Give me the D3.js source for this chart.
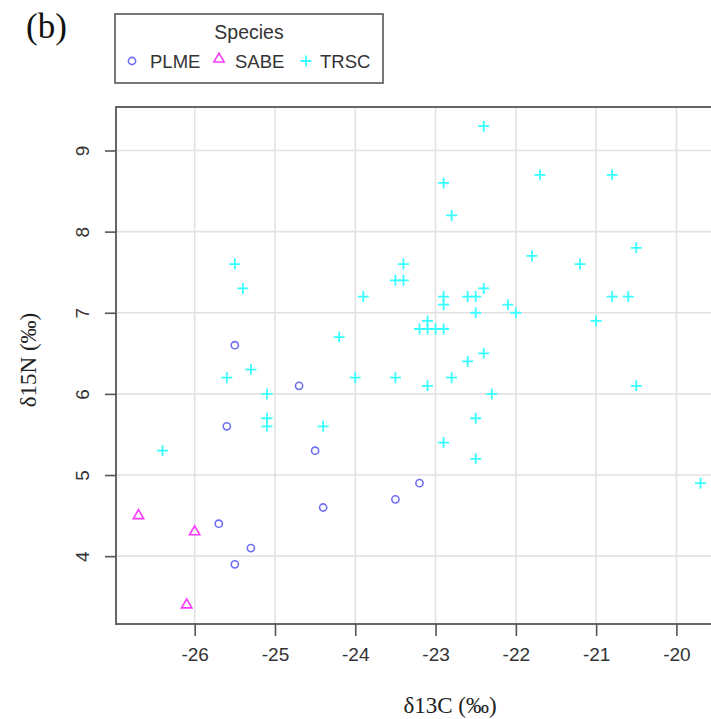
<!DOCTYPE html>
<html>
<head>
<meta charset="utf-8">
<script src="https://cdn.jsdelivr.net/npm/d3@7"></script>
<style>
  body { margin: 0; background: #fff; }
  svg { display: block; }
</style>
</head>
<body>
<div id="chart"></div>
<script>
// data: d13C (x), d15N (y)
var plmeX = [-25.5, -24.7, -25.6, -24.5, -23.5, -24.4, -25.7, -25.3, -25.5, -23.2];
var plmeY = [6.6, 6.1, 5.6, 5.3, 4.7, 4.6, 4.4, 4.1, 3.9, 4.9];

var sabeX = [-26.7, -26.0, -26.1];
var sabeY = [4.5, 4.3, 3.4];

var trscX = [-25.5, -25.4, -23.9, -23.4, -23.5, -23.4, -24.2, -25.3,
             -22.4, -22.9, -21.7, -20.8, -22.8, -20.5, -21.8, -21.2,
             -22.9, -22.9, -22.6, -22.5, -22.4, -22.5, -22.1, -22.0,
             -20.8, -20.6, -21.0, -23.2, -23.1, -23.0, -22.9, -23.1,
             -22.6, -22.4, -25.6, -25.1, -25.1, -25.1, -24.4, -26.4,
             -24.0, -23.5, -23.1, -22.8, -22.3, -22.5, -22.9, -22.5,
             -20.5, -19.7];
var trscY = [7.6, 7.3, 7.2, 7.6, 7.4, 7.4, 6.7, 6.3,
             9.3, 8.6, 8.7, 8.7, 8.2, 7.8, 7.7, 7.6,
             7.2, 7.1, 7.2, 7.2, 7.3, 7.0, 7.1, 7.0,
             7.2, 7.2, 6.9, 6.8, 6.8, 6.8, 6.8, 6.9,
             6.4, 6.5, 6.2, 6.0, 5.7, 5.6, 5.6, 5.3,
             6.2, 6.2, 6.1, 6.2, 6.0, 5.7, 5.4, 5.2,
             6.1, 4.9];

var species = ["PLME", "SABE", "TRSC"];
var colors = ["#6f6ff2", "#ff38ff", "#38ffff"];
var xTicks = [-26, -25, -24, -23, -22, -21, -20];
var yTicks = [4, 5, 6, 7, 8, 9];

var width = 711, height = 719;
// plot box (right edge falls outside the picture, as in the original)
var pLeft = 116, pRight = 723, pTop = 107, pBottom = 624;

var X = d3.scaleLinear().domain([-26.98, -19.42]).range([pLeft, pRight]);
var Y = d3.scaleLinear().domain([3.164, 9.536]).range([pBottom, pTop]);

var svg = d3.select("#chart").append("svg")
    .attr("width", width)
    .attr("height", height);

// grid
svg.append("g").selectAll("line").data(xTicks).enter().append("line")
    .attr("x1", function(d) { return X(d); })
    .attr("x2", function(d) { return X(d); })
    .attr("y1", pTop).attr("y2", pBottom)
    .style("stroke", "#e2e2e2").style("stroke-width", 1.6);
svg.append("g").selectAll("line").data(yTicks).enter().append("line")
    .attr("y1", function(d) { return Y(d); })
    .attr("y2", function(d) { return Y(d); })
    .attr("x1", pLeft).attr("x2", pRight)
    .style("stroke", "#e2e2e2").style("stroke-width", 1.6);

// box
svg.append("rect")
    .attr("x", pLeft).attr("y", pTop)
    .attr("width", pRight - pLeft).attr("height", pBottom - pTop)
    .style("fill", "none").style("stroke", "#666").style("stroke-width", 2);

// axes
var xAxis = d3.axisBottom(X).tickValues(xTicks).tickSize(12).tickPadding(12)
    .tickFormat(function(d) { return "-" + Math.abs(d); });
var gx = svg.append("g").attr("transform", "translate(0," + pBottom + ")").call(xAxis);
gx.select(".domain").remove();
gx.selectAll("line").style("stroke", "#555").style("stroke-width", 1.6);
gx.selectAll("text").style("font-family", "Liberation Sans, Arial, sans-serif")
    .style("font-size", "19px").style("fill", "#333");

var yAxis = d3.axisLeft(Y).tickValues(yTicks).tickSize(11).tickFormat(d3.format("d"));
var gy = svg.append("g").attr("transform", "translate(" + pLeft + ",0)").call(yAxis);
gy.select(".domain").remove();
gy.selectAll("line").style("stroke", "#555").style("stroke-width", 1.6);
gy.selectAll("text")
    .attr("x", null).attr("y", null).attr("dy", null)
    .attr("transform", "translate(-34,0) rotate(-90)")
    .style("text-anchor", "middle").style("dominant-baseline", "central")
    .style("font-family", "Liberation Sans, Arial, sans-serif")
    .style("font-size", "19px").style("fill", "#333");

// axis titles
svg.append("text")
    .attr("x", 450).attr("y", 713)
    .style("text-anchor", "middle")
    .style("font-family", "Liberation Serif, Times New Roman, serif")
    .style("font-size", "23px").style("fill", "#222")
    .text("δ13C (‰)");
svg.append("text")
    .attr("transform", "translate(36,360) rotate(-90)")
    .style("text-anchor", "middle")
    .style("font-family", "Liberation Serif, Times New Roman, serif")
    .style("font-size", "23px").style("fill", "#222")
    .text("δ15N (‰)");

// panel label
svg.append("text")
    .attr("x", 26).attr("y", 38)
    .style("font-family", "Liberation Serif, Times New Roman, serif")
    .style("font-size", "35px").style("fill", "#111")
    .text("(b)");

// symbols
function plusPath(s) {
    return "M" + (-s) + ",0H" + s + "M0," + (-s) + "V" + s;
}
var tri = d3.symbol().type(d3.symbolTriangle).size(46);

function pairs(xs, ys) {
    return xs.map(function(x, i) { return [x, ys[i]]; });
}

svg.append("g").selectAll("circle").data(pairs(plmeX, plmeY)).enter().append("circle")
    .attr("cx", function(d) { return X(d[0]); })
    .attr("cy", function(d) { return Y(d[1]); })
    .attr("r", 3.6)
    .style("fill", "none").style("stroke", colors[0]).style("stroke-width", 1.6);

svg.append("g").selectAll("path").data(pairs(sabeX, sabeY)).enter().append("path")
    .attr("d", tri)
    .attr("transform", function(d) { return "translate(" + X(d[0]) + "," + Y(d[1]) + ")"; })
    .style("fill", "none").style("stroke", colors[1]).style("stroke-width", 1.6);

svg.append("g").selectAll("path").data(pairs(trscX, trscY)).enter().append("path")
    .attr("d", plusPath(5.5))
    .attr("transform", function(d) { return "translate(" + X(d[0]) + "," + Y(d[1]) + ")"; })
    .style("fill", "none").style("stroke", colors[2]).style("stroke-width", 1.8);

// legend
var lg = svg.append("g");
lg.append("rect")
    .attr("x", 115).attr("y", 14).attr("width", 268).attr("height", 69)
    .style("fill", "#fff").style("stroke", "#555").style("stroke-width", 1.6);
lg.append("text")
    .attr("x", 249).attr("y", 39)
    .style("text-anchor", "middle")
    .style("font-family", "Liberation Sans, Arial, sans-serif")
    .style("font-size", "19.5px").style("fill", "#333")
    .text("Species");

var legX = [132, 219, 306];
var legTextX = [150, 235, 320];
lg.append("circle").attr("cx", legX[0]).attr("cy", 61).attr("r", 3.6)
    .style("fill", "none").style("stroke", colors[0]).style("stroke-width", 1.6);
lg.append("path").attr("d", tri).attr("transform", "translate(" + legX[1] + ",59)")
    .style("fill", "none").style("stroke", colors[1]).style("stroke-width", 1.6);
lg.append("path").attr("d", plusPath(5.5)).attr("transform", "translate(" + legX[2] + ",61)")
    .style("fill", "none").style("stroke", colors[2]).style("stroke-width", 1.8);
lg.selectAll("text.lab").data(species).enter().append("text")
    .attr("class", "lab")
    .attr("x", function(d, i) { return legTextX[i]; })
    .attr("y", 68)
    .style("font-family", "Liberation Sans, Arial, sans-serif")
    .style("font-size", "18.5px").style("fill", "#333")
    .text(function(d) { return d; });
</script>
</body>
</html>
